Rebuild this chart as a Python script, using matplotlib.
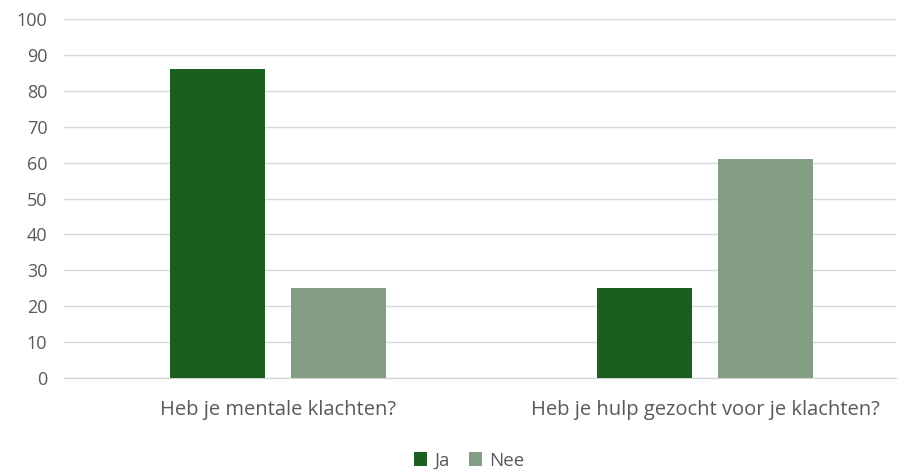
import matplotlib.pyplot as plt
import numpy as np

categories = ['Heb je mentale klachten?', 'Heb je hulp gezocht voor je klachten?']
ja = [86, 25]
nee = [25, 61]

plt.rcParams['font.family'] = ['Open Sans', 'DejaVu Sans']
grey = '#595959'

fig = plt.figure(figsize=(9.11, 4.70), dpi=100)
ax = fig.add_axes([0.0703, 0.1957, 0.9132, 0.7639])

x = np.arange(len(categories))
w = 0.222
off = (w + 0.061) / 2
ax.bar(x - off, ja, w, color='#1a5e20', label='Ja', zorder=3)
ax.bar(x + off, nee, w, color='#849e85', label='Nee', zorder=3)

ax.set_xlim(-0.501, 1.447)
ax.set_ylim(0, 100)
ax.set_yticks(range(0, 101, 10))
ax.yaxis.grid(True, color='#d9d9d9', linewidth=1, zorder=0)
for s in ['top', 'right', 'left']:
    ax.spines[s].set_visible(False)
ax.spines['bottom'].set_color('#d0d0d0')
ax.tick_params(axis='y', length=0, labelsize=13, colors=grey, pad=12)
ax.tick_params(axis='x', length=0, labelsize=14.5, colors=grey, pad=16)
ax.set_xticks(x)
ax.set_xticklabels(categories)

fig.legend(loc='center', bbox_to_anchor=(0.515, 0.02), ncol=2, frameon=False,
           fontsize=13.5, labelcolor=grey, handlelength=0.7, handleheight=0.7,
           handletextpad=0.4, columnspacing=1.0)

plt.savefig('out.png')
